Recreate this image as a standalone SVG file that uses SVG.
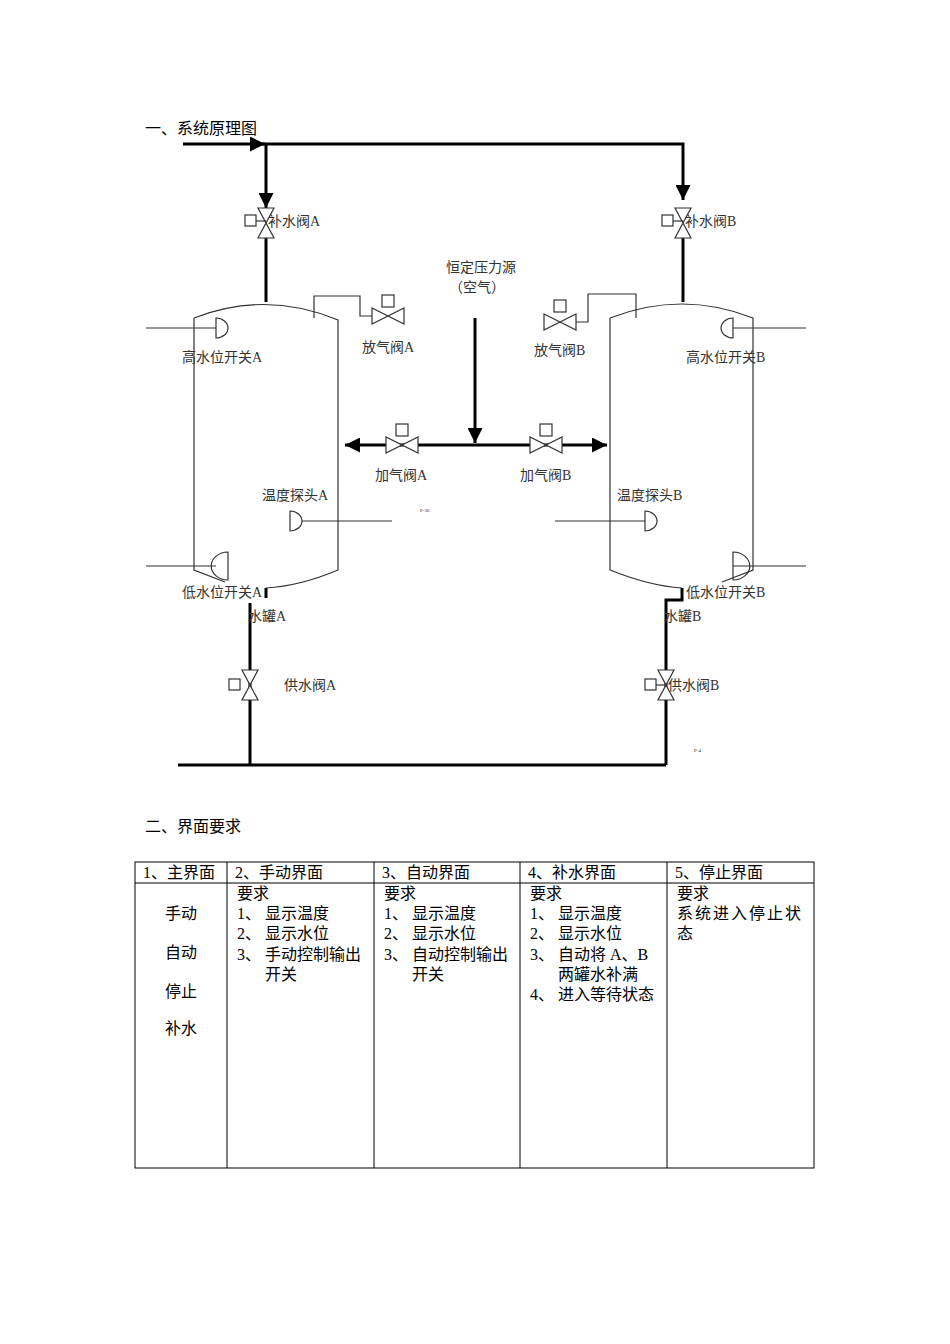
<svg xmlns="http://www.w3.org/2000/svg" width="950" height="1344" viewBox="0 0 950 1344">
<style>
text{font-family:"Liberation Serif","Noto Sans CJK SC",serif;font-size:14px;fill:#333}
.t{font-size:16px;fill:#000}
.thin{stroke:#333;stroke-width:1.2;fill:none}
.bold{stroke:#000;stroke-width:3;fill:none}
.v{stroke:#333;stroke-width:1.2;fill:#fff}
</style>
<defs>
<marker id="ar" viewBox="0 0 10 10" refX="10" refY="5" markerWidth="5" markerHeight="5" orient="auto"><path d="M0,0L10,5L0,10z" fill="#000"/></marker>
</defs>
<rect width="950" height="1344" fill="#fff"/>
<text x="145" y="134" class="t">一、系统原理图</text>
<g id="connectors">
<line x1="183" y1="144" x2="265" y2="144" class="bold" marker-end="url(#ar)"/>
<polyline points="262,144 683,144 683,200" class="bold" marker-end="url(#ar)"/>
<line x1="266" y1="144" x2="266" y2="208" class="bold" marker-end="url(#ar)"/>
<line x1="266" y1="238" x2="266" y2="302" class="bold"/>
<line x1="683" y1="238" x2="683" y2="302" class="bold"/>
<line x1="475" y1="318" x2="475" y2="443" class="bold" marker-end="url(#ar)"/>
<line x1="475" y1="445" x2="345" y2="445" class="bold" marker-end="url(#ar)"/>
<line x1="475" y1="445" x2="607" y2="445" class="bold" marker-end="url(#ar)"/>
<polyline points="266,588 266,598" class="bold"/>
<line x1="250" y1="603" x2="250" y2="765" class="bold"/>
<line x1="178" y1="765" x2="666" y2="765" class="bold"/>
<polyline points="682,588 682,600 666,600 666,765" class="bold"/>
<polyline points="314,318 314,296 360,296 360,316 372,316" class="thin"/>
<polyline points="636,318 636,294 588,294 588,322 576,322" class="thin"/>
<line x1="146" y1="328" x2="216" y2="328" class="thin"/>
<line x1="146" y1="566" x2="216" y2="566" class="thin"/>
<line x1="302" y1="521" x2="392" y2="521" class="thin"/>
<line x1="733" y1="328" x2="806" y2="328" class="thin"/>
<line x1="733" y1="566" x2="806" y2="566" class="thin"/>
<line x1="555" y1="521" x2="645" y2="521" class="thin"/>
</g>
<g id="tankA">
<path d="M194,318 Q266,290 338,320 L338,570 Q300,586 266,588 M194,318 L194,570 L225,582" class="thin"/>
</g>
<g id="tankB">
<path d="M610,318 Q682,290 753,318 L753,570 L722,582 M610,318 L610,570 Q650,586 682,588" class="thin"/>
</g>
<g id="hiA"><path d="M216,318 A12,10 0 0 1 216,338 Z" class="thin"/><text x="182" y="362">高水位开关A</text></g>
<g id="loA"><path d="M228,552 A12,10 0 0 0 228,580 Z" class="thin"/><text x="182" y="597">低水位开关A</text></g>
<g id="tempA"><path d="M290,511 A12,10 0 0 1 290,531 Z" class="thin"/><text x="262" y="500">温度探头A</text></g>
<g id="hiB"><path d="M733,318 A12,10 0 0 0 733,338 Z" class="thin"/><text x="686" y="362">高水位开关B</text></g>
<g id="loB"><path d="M733,552 A12,10 0 0 1 733,580 Z" class="thin"/><text x="686" y="597">低水位开关B</text></g>
<g id="tempB"><path d="M645,511 A12,10 0 0 1 645,531 Z" class="thin"/><text x="617" y="500">温度探头B</text></g>
<g id="fillA"><path d="M258,208 L274,208 L258,238 L274,238 Z" class="v"/><rect x="245" y="215" width="11" height="11" class="v"/><line x1="256" y1="221" x2="266" y2="221" class="thin"/><text x="268" y="226">补水阀A</text></g>
<g id="fillB"><path d="M675,208 L691,208 L675,238 L691,238 Z" class="v"/><rect x="662" y="215" width="11" height="11" class="v"/><line x1="673" y1="221" x2="683" y2="221" class="thin"/><text x="685" y="226">补水阀B</text></g>
<g id="ventA"><path d="M372,308 L372,324 L404,308 L404,324 Z" class="v"/><rect x="382" y="295" width="12" height="12" class="v"/><text x="362" y="352">放气阀A</text></g>
<g id="ventB"><path d="M544,314 L544,330 L576,314 L576,330 Z" class="v"/><rect x="554" y="300" width="12" height="12" class="v"/><text x="534" y="355">放气阀B</text></g>
<g id="airA"><path d="M386,437 L386,453 L418,437 L418,453 Z" class="v"/><rect x="396" y="424" width="12" height="12" class="v"/><text x="375" y="480">加气阀A</text></g>
<g id="airB"><path d="M530,437 L530,453 L562,437 L562,453 Z" class="v"/><rect x="540" y="424" width="12" height="12" class="v"/><text x="520" y="480">加气阀B</text></g>
<g id="src"><text x="446" y="272">恒定压力源</text><text x="449" y="292">（空气）</text></g>
<g id="supA"><path d="M242,670 L258,670 L242,700 L258,700 Z" class="v"/><rect x="229" y="679" width="11" height="11" class="v"/><text x="284" y="690">供水阀A</text><text x="248" y="621">水罐A</text></g>
<g id="supB"><path d="M658,670 L674,670 L658,700 L674,700 Z" class="v"/><rect x="645" y="679" width="11" height="11" class="v"/><line x1="656" y1="685" x2="666" y2="685" class="thin"/><text x="668" y="690">供水阀B</text><text x="664" y="621">水罐B</text></g>
<text x="420" y="512" style="font-size:5px">P-36</text>
<text x="694" y="752" style="font-size:5px">P-4</text>
<text x="145" y="832" class="t">二、界面要求</text>
<g id="table" style="stroke:#000;stroke-width:1">
<rect x="135" y="862" width="679" height="306" fill="none"/>
<line x1="135" y1="883" x2="814" y2="883"/>
<line x1="227" y1="862" x2="227" y2="1168"/>
<line x1="374" y1="862" x2="374" y2="1168"/>
<line x1="520" y1="862" x2="520" y2="1168"/>
<line x1="667" y1="862" x2="667" y2="1168"/>
</g>
<g>
<text x="143" y="878" class="t">1、主界面</text><text x="235" y="878" class="t">2、手动界面</text><text x="382" y="878" class="t">3、自动界面</text><text x="528" y="878" class="t">4、补水界面</text><text x="675" y="878" class="t">5、停止界面</text>
<text x="165" y="919" class="t">手动</text><text x="165" y="958" class="t">自动</text><text x="165" y="997" class="t">停止</text><text x="165" y="1034" class="t">补水</text>
<text x="237" y="899" class="t">要求</text><text x="237" y="919" class="t">1、 显示温度</text><text x="237" y="939" class="t">2、 显示水位</text><text x="237" y="960" class="t">3、 手动控制输出</text><text x="265" y="980" class="t">开关</text>
<text x="384" y="899" class="t">要求</text><text x="384" y="919" class="t">1、 显示温度</text><text x="384" y="939" class="t">2、 显示水位</text><text x="384" y="960" class="t">3、 自动控制输出</text><text x="412" y="980" class="t">开关</text>
<text x="530" y="899" class="t">要求</text><text x="530" y="919" class="t">1、 显示温度</text><text x="530" y="939" class="t">2、 显示水位</text><text x="530" y="960" class="t">3、 自动将 A、B</text><text x="558" y="980" class="t">两罐水补满</text><text x="530" y="1000" class="t">4、 进入等待状态</text>
<text x="677" y="899" class="t">要求</text><text x="677" y="919" class="t" style="letter-spacing:2px">系统进入停止状</text><text x="677" y="939" class="t">态</text>
</g>
</svg>
